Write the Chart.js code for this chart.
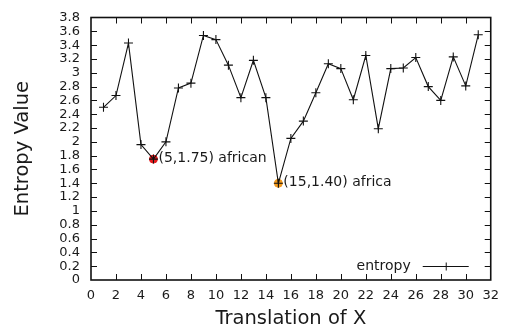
<!DOCTYPE html>
<html>
<head>
<meta charset="UTF-8">
<script src="https://cdn.jsdelivr.net/npm/chart.js@4/dist/chart.umd.min.js"></script>
<style>
  html, body { margin: 0; padding: 0; background: #fff; }
  #wrap { width: 507px; height: 327px; }
</style>
</head>
<body>
<div id="wrap"><canvas id="entropyChart"></canvas></div>
<script>
// datos
const translations = [1, 2, 3, 4, 5, 6, 7, 8, 9, 10, 11, 12, 13, 14, 15, 16, 17, 18, 19, 20, 21, 22, 23, 24, 25, 26, 27, 28, 29, 30, 31];
const entropyValues = [2.50, 2.67, 3.43, 1.96, 1.75, 2.00, 2.78, 2.85, 3.54, 3.48, 3.11, 2.64, 3.18, 2.64, 1.40, 2.05, 2.30, 2.71, 3.13, 3.06, 2.61, 3.25, 2.19, 3.06, 3.07, 3.22, 2.80, 2.60, 3.23, 2.81, 3.55];
const highlightX = [5, 15];
const highlightY = [1.75, 1.40];
const highlightWords = ['african', 'africa'];
const highlightColors = ['#e31a1c', '#f39a1d'];
const yTicks = [0, 0.2, 0.4, 0.6, 0.8, 1, 1.2, 1.4, 1.6, 1.8, 2, 2.2, 2.4, 2.6, 2.8, 3, 3.2, 3.4, 3.6, 3.8];
const xTicks = [0, 2, 4, 6, 8, 10, 12, 14, 16, 18, 20, 22, 24, 26, 28, 30, 32];
const seriesName = 'entropy';

const FONT = '"DejaVu Sans", Verdana, sans-serif';
const TEXT = '#1a1a1a';

// marco, marcas hacia dentro, etiquetas y leyenda (estilo gnuplot)
const gnuplotStyle = {
  id: 'gnuplotStyle',
  afterDatasetsDraw(chart) {
    const { ctx, chartArea: a, scales: { x, y } } = chart;
    ctx.save();
    ctx.strokeStyle = '#111';
    ctx.lineWidth = 1.6;
    ctx.strokeRect(a.left, a.top, a.right - a.left, a.bottom - a.top);
    ctx.lineWidth = 1;
    const len = 6;
    ctx.beginPath();
    xTicks.slice(1, -1).forEach(v => {
      const px = Math.round(x.getPixelForValue(v)) + 0.5;
      ctx.moveTo(px, a.bottom); ctx.lineTo(px, a.bottom - len);
      ctx.moveTo(px, a.top); ctx.lineTo(px, a.top + len);
    });
    yTicks.slice(1, -1).forEach(v => {
      const py = Math.round(y.getPixelForValue(v)) + 0.5;
      ctx.moveTo(a.left, py); ctx.lineTo(a.left + len, py);
      ctx.moveTo(a.right, py); ctx.lineTo(a.right - len, py);
    });
    ctx.stroke();

    // etiquetas de los puntos destacados
    ctx.fillStyle = TEXT;
    ctx.font = '14px ' + FONT;
    ctx.textAlign = 'left';
    ctx.textBaseline = 'middle';
    highlightX.forEach((hx, i) => {
      const px = x.getPixelForValue(hx);
      const py = y.getPixelForValue(highlightY[i]);
      ctx.fillText(`(${hx},${highlightY[i].toFixed(2)}) ${highlightWords[i]}`, px + 5, py - 1);
    });

    // leyenda
    const ly = a.bottom - 14;
    ctx.textAlign = 'right';
    ctx.fillText(seriesName, a.right - 80, ly);
    ctx.beginPath();
    ctx.moveTo(a.right - 68, ly + 0.5); ctx.lineTo(a.right - 22, ly + 0.5);
    ctx.moveTo(a.right - 44.5, ly - 3.5); ctx.lineTo(a.right - 44.5, ly + 4.5);
    ctx.stroke();
    ctx.restore();
  }
};

const ctx = document.getElementById('entropyChart').getContext('2d');
new Chart(ctx, {
  type: 'scatter',
  data: {
    datasets: [{
      label: seriesName,
      data: translations.map((t, i) => ({ x: t, y: entropyValues[i] })),
      showLine: true,
      borderColor: '#111',
      borderWidth: 1.1,
      pointStyle: 'cross',
      pointRadius: 4.5,
      pointBorderColor: '#111',
      pointBorderWidth: 1.1,
      order: 0
    }, {
      label: 'destacados',
      data: highlightX.map((hx, i) => ({ x: hx, y: highlightY[i] })),
      showLine: false,
      pointStyle: 'circle',
      pointRadius: 4,
      pointBackgroundColor: highlightColors,
      pointBorderColor: highlightColors,
      order: 1
    }]
  },
  options: {
    responsive: true,
    maintainAspectRatio: false,
    animation: false,
    events: [],
    layout: { padding: { left: 0, top: 16, right: 11, bottom: 0 } },
    plugins: { legend: { display: false }, tooltip: { enabled: false } },
    scales: {
      x: {
        type: 'linear',
        min: 0,
        max: 32,
        afterBuildTicks: s => { s.ticks = xTicks.map(v => ({ value: v })); },
        afterFit: s => { s.height = 47; },
        grid: { display: false, drawTicks: false },
        border: { display: false },
        ticks: { color: TEXT, font: { family: FONT, size: 13, lineHeight: 1.1 }, padding: 8, maxRotation: 0, autoSkip: false },
        title: { display: true, text: 'Translation of X', color: TEXT, font: { family: FONT, size: 19.5, lineHeight: 1 }, padding: { top: 0, bottom: -2 } }
      },
      y: {
        min: 0,
        max: 3.8,
        afterBuildTicks: s => { s.ticks = yTicks.map(v => ({ value: v })); },
        afterFit: s => { s.width = 91; },
        grid: { display: false, drawTicks: false },
        border: { display: false },
        ticks: {
          color: TEXT, font: { family: FONT, size: 13, lineHeight: 1 }, padding: 11, autoSkip: false,
          callback: v => String(parseFloat(v.toFixed(1)))
        },
        title: { display: true, text: 'Entropy Value', color: TEXT, font: { family: FONT, size: 19.5, lineHeight: 1 }, padding: { top: 13, bottom: 0 } }
      }
    }
  },
  plugins: [gnuplotStyle]
});
</script>
</body>
</html>
